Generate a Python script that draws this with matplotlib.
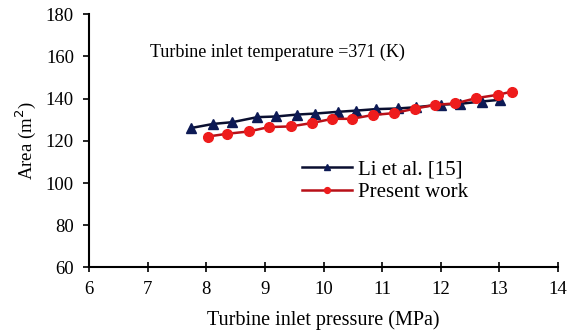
import matplotlib
matplotlib.use("Agg")
import matplotlib.pyplot as plt

plt.rcParams['font.family'] = ['Liberation Serif', 'DejaVu Serif']

# Li et al. [15]
li_p = [7.73, 8.12, 8.44, 8.87, 9.19, 9.54, 9.86, 10.24, 10.56, 10.90, 11.27, 11.58, 12.00, 12.33, 12.70, 13.01]
li_a = [126.0, 128.0, 128.8, 131.2, 131.5, 132.4, 132.9, 133.7, 134.3, 135.0, 135.3, 135.9, 137.1, 137.5, 138.6, 139.4]

# Present work
pw_p = [8.02, 8.35, 8.72, 9.07, 9.44, 9.80, 10.15, 10.48, 10.84, 11.20, 11.56, 11.90, 12.25, 12.61, 12.98, 13.22]
pw_a = [122.0, 123.3, 124.4, 126.5, 126.8, 128.4, 130.4, 130.4, 132.2, 133.1, 135.2, 137.0, 137.7, 140.2, 141.8, 143.3]

fig = plt.figure(figsize=(5.75, 3.35), dpi=100)
ax = fig.add_axes([0.1553, 0.2015, 0.8147, 0.7565])

ax.plot(li_p, li_a, color='#0a0f30', marker='^', markersize=6.5, markerfacecolor='#0d1a55',
        markeredgecolor='#0d1a55', linewidth=1.8, label='Li et al. [15]')
ax.plot(pw_p, pw_a, color='#b81018', marker='o', markersize=7, markerfacecolor='#ee1c1c',
        markeredgecolor='#ee1c1c', linewidth=1.8, label='Present work')

ax.set_xlim(6, 14)
ax.set_ylim(60, 180)
ax.set_xticks(range(6, 15))
ax.set_yticks(range(60, 181, 20))
ax.tick_params(axis='x', direction='inout', length=7, width=1.2, labelsize=13.5, pad=6)
ax.tick_params(axis='y', direction='out', length=4, width=1.2, labelsize=13.5, pad=7)
for s in ['top', 'right']:
    ax.spines[s].set_visible(False)
for s in ['left', 'bottom']:
    ax.spines[s].set_linewidth(1.5)

ax.set_xlabel('Turbine inlet pressure (MPa)', fontsize=14.5, labelpad=9)
ax.set_ylabel('Area (m$^2$)', fontsize=13.5, labelpad=6)
ax.text(7.04, 162, 'Turbine inlet temperature =371 (K)', fontsize=13, va='center')

ax.legend(loc='upper left', bbox_to_anchor=(0.454, 0.425), frameon=False, fontsize=15,
          handlelength=2.4, labelspacing=0.15, borderpad=0, borderaxespad=0,
          handletextpad=0.3, markerscale=0.6)

fig.savefig('out.png', dpi=100)
